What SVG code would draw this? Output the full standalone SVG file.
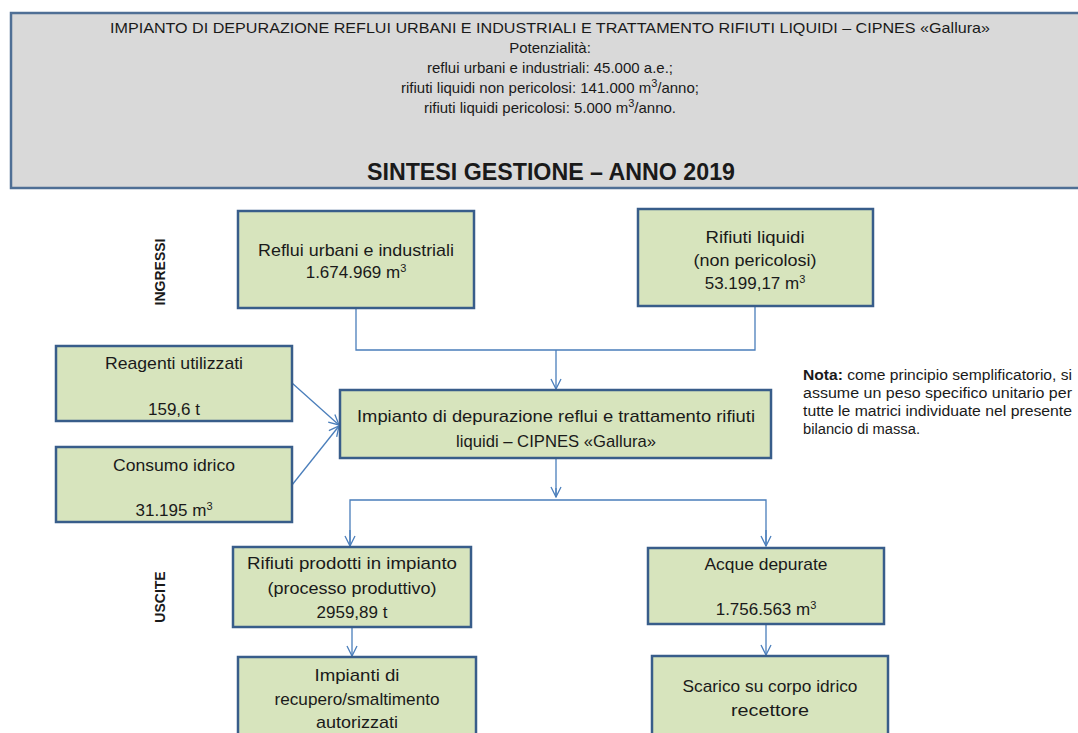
<svg xmlns="http://www.w3.org/2000/svg" width="1078" height="733" viewBox="0 0 1078 733">
<defs>
<style>
.t{font-family:"Liberation Sans",Arial,sans-serif;fill:#1a1a1a;}
.bx{fill:#d7e4bd;stroke:#385d8a;stroke-width:2.5;}
.hd{fill:#d9d9d9;stroke:#4f6f95;stroke-width:2.5;}
.c{fill:none;stroke:#4a7ebb;stroke-width:1.3;}
.bt{font-size:17px;text-anchor:middle;}
.sup{font-size:11px;}
</style>
<marker id="ar" viewBox="0 0 12 12" refX="11" refY="6" markerWidth="12" markerHeight="12" markerUnits="userSpaceOnUse" orient="auto">
<path d="M1,1 L11,6 L1,11" fill="none" stroke="#4a7ebb" stroke-width="1.3"/>
</marker>
</defs>
<rect width="1078" height="733" fill="#ffffff"/>

<g id="header">
<rect class="hd" x="11" y="13" width="1080" height="175"/>
<g class="t" text-anchor="middle" font-size="15">
<text x="550" y="33" textLength="880" lengthAdjust="spacingAndGlyphs">IMPIANTO DI DEPURAZIONE REFLUI URBANI E INDUSTRIALI E TRATTAMENTO RIFIUTI LIQUIDI – CIPNES «Gallura»</text>
<text x="550" y="53">Potenzialità:</text>
<text x="550" y="73">reflui urbani e industriali: 45.000 a.e.;</text>
<text x="550" y="93">rifiuti liquidi non pericolosi: 141.000 m<tspan class="sup" font-size="10" baseline-shift="super">3</tspan>/anno;</text>
<text x="550" y="113">rifiuti liquidi pericolosi: 5.000 m<tspan class="sup" font-size="10" baseline-shift="super">3</tspan>/anno.</text>
<text x="551" y="180" font-size="24" font-weight="bold" textLength="368" lengthAdjust="spacingAndGlyphs">SINTESI GESTIONE – ANNO 2019</text>
</g>
</g>

<g id="label-ingressi">
<text class="t" x="0" y="0" font-size="14" font-weight="bold" text-anchor="middle" transform="translate(165,272) rotate(-90)">INGRESSI</text>
</g>
<g id="label-uscite">
<text class="t" x="0" y="0" font-size="14" font-weight="bold" text-anchor="middle" transform="translate(165,597) rotate(-90)">USCITE</text>
</g>

<g id="connectors">
<path class="c" d="M356,308 V350 H755 V306"/>
<path class="c" d="M556,350 V389" marker-end="url(#ar)"/>
<path class="c" d="M292,383 L339,425" marker-end="url(#ar)"/>
<path class="c" d="M292,485 L339,426" marker-end="url(#ar)"/>
<path class="c" d="M556,458 V497"/>
<path class="c" d="M556,488 V497" marker-end="url(#ar)"/>
<path class="c" d="M350,546 V500 H766 V546"/>
<path class="c" d="M350,530 V546" marker-end="url(#ar)"/>
<path class="c" d="M766,530 V546" marker-end="url(#ar)"/>
<path class="c" d="M352,627 V656" marker-end="url(#ar)"/>
<path class="c" d="M766,624 V655" marker-end="url(#ar)"/>
</g>

<g id="reflui">
<rect class="bx" x="238" y="211" width="236" height="97"/>
<text class="t bt" x="356" y="256" textLength="196" lengthAdjust="spacingAndGlyphs">Reflui urbani e industriali</text>
<text class="t bt" x="356" y="278">1.674.969 m<tspan class="sup" baseline-shift="super">3</tspan></text>
</g>

<g id="rifiuti-liquidi">
<rect class="bx" x="638" y="209" width="235" height="97"/>
<text class="t bt" x="755" y="243" textLength="99" lengthAdjust="spacingAndGlyphs">Rifiuti liquidi</text>
<text class="t bt" x="755" y="266" textLength="123" lengthAdjust="spacingAndGlyphs">(non pericolosi)</text>
<text class="t bt" x="755" y="289">53.199,17 m<tspan class="sup" baseline-shift="super">3</tspan></text>
</g>

<g id="reagenti">
<rect class="bx" x="56" y="346" width="236" height="75"/>
<text class="t bt" x="174" y="369" textLength="138" lengthAdjust="spacingAndGlyphs">Reagenti utilizzati</text>
<text class="t bt" x="174" y="415">159,6 t</text>
</g>

<g id="consumo">
<rect class="bx" x="56" y="447" width="236" height="75"/>
<text class="t bt" x="174" y="471" textLength="122" lengthAdjust="spacingAndGlyphs">Consumo idrico</text>
<text class="t bt" x="174" y="516">31.195 m<tspan class="sup" baseline-shift="super">3</tspan></text>
</g>

<g id="impianto">
<rect class="bx" x="340" y="390" width="431" height="68"/>
<text class="t bt" x="556" y="422" textLength="398" lengthAdjust="spacingAndGlyphs">Impianto di depurazione reflui e trattamento rifiuti</text>
<text class="t bt" x="556" y="447" textLength="200" lengthAdjust="spacingAndGlyphs">liquidi – CIPNES «Gallura»</text>
</g>

<g id="nota">
<g class="t" font-size="14">
<text x="803" y="380" textLength="269" lengthAdjust="spacingAndGlyphs"><tspan font-weight="bold">Nota:</tspan> come principio semplificatorio, si</text>
<text x="803" y="398" textLength="269" lengthAdjust="spacingAndGlyphs">assume un peso specifico unitario per</text>
<text x="803" y="416" textLength="269" lengthAdjust="spacingAndGlyphs">tutte le matrici individuate nel presente</text>
<text x="803" y="434" textLength="117" lengthAdjust="spacingAndGlyphs">bilancio di massa.</text>
</g>
</g>

<g id="rifiuti-prodotti">
<rect class="bx" x="233" y="547" width="238" height="80"/>
<text class="t bt" x="352" y="569" textLength="210" lengthAdjust="spacingAndGlyphs">Rifiuti prodotti in impianto</text>
<text class="t bt" x="352" y="594" textLength="169" lengthAdjust="spacingAndGlyphs">(processo produttivo)</text>
<text class="t bt" x="352" y="618">2959,89 t</text>
</g>

<g id="acque">
<rect class="bx" x="648" y="548" width="236" height="76"/>
<text class="t bt" x="766" y="570" textLength="123" lengthAdjust="spacingAndGlyphs">Acque depurate</text>
<text class="t bt" x="766" y="615">1.756.563 m<tspan class="sup" baseline-shift="super">3</tspan></text>
</g>

<g id="recupero">
<rect class="bx" x="238" y="657" width="238" height="90"/>
<text class="t bt" x="357" y="681" textLength="85" lengthAdjust="spacingAndGlyphs">Impianti di</text>
<text class="t bt" x="357" y="705" textLength="165" lengthAdjust="spacingAndGlyphs">recupero/smaltimento</text>
<text class="t bt" x="357" y="728" textLength="82" lengthAdjust="spacingAndGlyphs">autorizzati</text>
</g>

<g id="scarico">
<rect class="bx" x="652" y="656" width="236" height="90"/>
<text class="t bt" x="770" y="692" textLength="175" lengthAdjust="spacingAndGlyphs">Scarico su corpo idrico</text>
<text class="t bt" x="770" y="716" textLength="78" lengthAdjust="spacingAndGlyphs">recettore</text>
</g>
</svg>
